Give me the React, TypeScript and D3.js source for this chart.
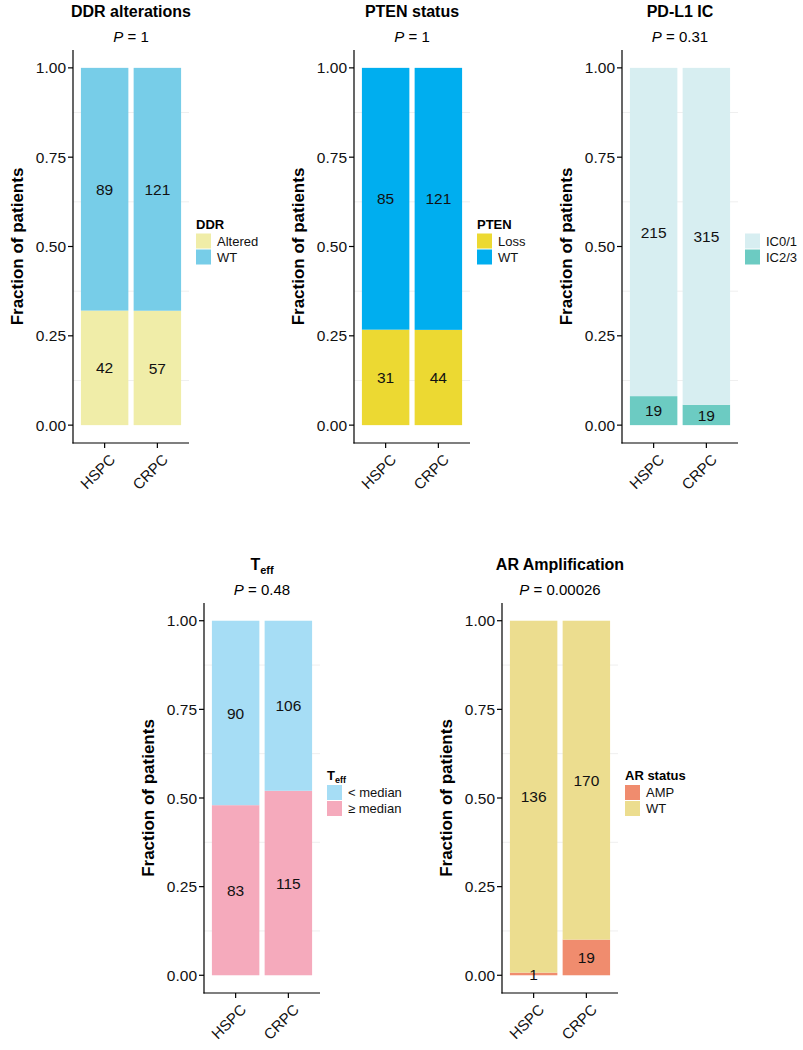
import React from 'react';
import * as d3 from 'd3';

// groups on the x axis
const groups = ['HSPC', 'CRPC'];
const yTicks = [0, 0.25, 0.5, 0.75, 1];
const minorTicks = [0.125, 0.375, 0.625, 0.875];

// counts per group (HSPC, CRPC)
const ddrAltered = [42, 57];
const ddrWT = [89, 121];
const ptenLoss = [31, 44];
const ptenWT = [85, 121];
const icLow = [215, 315];
const icHigh = [19, 19];
const teffBelow = [90, 106];
const teffAbove = [83, 115];
const arAmp = [1, 19];
const arWT = [136, 170];

interface Level {
    name: string;
    values: number[];
    color: string;
}

interface PanelSpec {
    title: string;
    titleSub?: string;
    p: string;
    legendTitle: string;
    legendSub?: string;
    legend: Level[]; // legend order
    stack: Level[]; // bottom first
    axisX: number;
    top: number;
    height: number;
}

const FONT = '"Liberation Sans", Arial, Helvetica, sans-serif';

const ddrLv = {
    altered: { name: 'Altered', values: ddrAltered, color: '#F0EDA8' },
    wt: { name: 'WT', values: ddrWT, color: '#77CDE8' },
};
const ptenLv = {
    loss: { name: 'Loss', values: ptenLoss, color: '#ECD932' },
    wt: { name: 'WT', values: ptenWT, color: '#00AEEF' },
};
const icLv = {
    low: { name: 'IC0/1', values: icLow, color: '#D7EEF1' },
    high: { name: 'IC2/3', values: icHigh, color: '#6CCBC2' },
};
const teffLv = {
    below: { name: '< median', values: teffBelow, color: '#A6DDF5' },
    above: { name: '\u2265 median', values: teffAbove, color: '#F5AABC' },
};
const arLv = {
    amp: { name: 'AMP', values: arAmp, color: '#F08C6E' },
    wt: { name: 'WT', values: arWT, color: '#ECDD8F' },
};

const panels: PanelSpec[] = [
    { title: 'DDR alterations', p: '1', legendTitle: 'DDR', legend: [ddrLv.altered, ddrLv.wt], stack: [ddrLv.altered, ddrLv.wt], axisX: 73, top: 50, height: 393 },
    { title: 'PTEN status', p: '1', legendTitle: 'PTEN', legend: [ptenLv.loss, ptenLv.wt], stack: [ptenLv.loss, ptenLv.wt], axisX: 354, top: 50, height: 393 },
    { title: 'PD-L1 IC', p: '0.31', legendTitle: '', legend: [icLv.low, icLv.high], stack: [icLv.high, icLv.low], axisX: 622, top: 50, height: 393 },
    { title: 'T', titleSub: 'eff', p: '0.48', legendTitle: 'T', legendSub: 'eff', legend: [teffLv.below, teffLv.above], stack: [teffLv.above, teffLv.below], axisX: 204, top: 603, height: 390 },
    { title: 'AR Amplification', p: '0.00026', legendTitle: 'AR status', legend: [arLv.amp, arLv.wt], stack: [arLv.amp, arLv.wt], axisX: 502, top: 603, height: 390 },
];

const PLOT_W = 116;

const Panel: React.FC<{ spec: PanelSpec }> = ({ spec }) => {
    const { axisX, top, height } = spec;
    const right = axisX + PLOT_W;
    const bottom = top + height;
    const x = d3.scaleLinear().domain([0.4, 2.6]).range([axisX, right]);
    const y = d3.scaleLinear().domain([-0.05, 1.05]).range([bottom, top]);
    const cx = (axisX + right) / 2;

    // stacked fractions
    const segs: { g: number; y0: number; y1: number; n: number; color: string }[] = [];
    groups.forEach((_, gi) => {
        const total = d3.sum(spec.stack, l => l.values[gi]);
        let acc = 0;
        spec.stack.forEach(l => {
            const f = l.values[gi] / total;
            segs.push({ g: gi, y0: acc, y1: acc + f, n: l.values[gi], color: l.color });
            acc += f;
        });
    });

    const midY = (top + bottom) / 2;
    const legX = right + 7;

    return (
        <g fontFamily={FONT}>
            {/* title */}
            <text x={cx} y={top - 33} textAnchor="middle" fontWeight="bold" fontSize={16}>
                {spec.title}
                {spec.titleSub && <tspan fontSize={11} dy={4}>{spec.titleSub}</tspan>}
            </text>
            <text x={cx} y={top - 8} textAnchor="middle" fontSize={15}>
                <tspan fontStyle="italic">P</tspan> = {spec.p}
            </text>

            {/* faint minor grid */}
            {minorTicks.map(t => (
                <line key={t} x1={axisX} x2={right} y1={y(t)} y2={y(t)} stroke="#EFEFEF" strokeWidth={1} />
            ))}

            {/* bars */}
            {segs.map((s, i) => (
                <rect key={i}
                    x={x(s.g + 1 - 0.45)}
                    width={x(1.9) - x(1)}
                    y={y(s.y1)}
                    height={y(s.y0) - y(s.y1)}
                    fill={s.color} />
            ))}
            {segs.map((s, i) => (
                <text key={'t' + i} x={x(s.g + 1)} y={y((s.y0 + s.y1) / 2)} dy="0.36em"
                    textAnchor="middle" fontSize={15.5} fill="#111">{s.n}</text>
            ))}

            {/* axes */}
            <line x1={axisX} x2={axisX} y1={top} y2={bottom + 0.6} stroke="#000" strokeWidth={1.2} />
            <line x1={axisX - 0.6} x2={right} y1={bottom} y2={bottom} stroke="#000" strokeWidth={1.2} />
            {yTicks.map(t => (
                <g key={t}>
                    <line x1={axisX - 5} x2={axisX} y1={y(t)} y2={y(t)} stroke="#000" strokeWidth={1.2} />
                    <text x={axisX - 7} y={y(t)} dy="0.36em" textAnchor="end" fontSize={15.5} fill="#111">
                        {d3.format('.2f')(t)}
                    </text>
                </g>
            ))}
            {groups.map((g, gi) => (
                <g key={g}>
                    <line x1={x(gi + 1)} x2={x(gi + 1)} y1={bottom} y2={bottom + 5} stroke="#000" strokeWidth={1.2} />
                    <text transform={`translate(${x(gi + 1) + 4},${bottom + 10}) rotate(-45)`}
                        textAnchor="end" dy="0.72em" fontSize={15} fill="#111">{g}</text>
                </g>
            ))}
            <text transform={`translate(${axisX - 50},${midY}) rotate(-90)`} textAnchor="middle"
                fontWeight="bold" fontSize={17}>Fraction of patients</text>

            {/* legend */}
            {spec.legendTitle && (
                <text x={legX} y={midY - 18} fontWeight="bold" fontSize={13}>
                    {spec.legendTitle}
                    {spec.legendSub && <tspan fontSize={9} dy={3}>{spec.legendSub}</tspan>}
                </text>
            )}
            {spec.legend.map((l, i) => (
                <g key={l.name}>
                    <rect x={legX} y={midY - 13 + i * 16} width={15} height={15} fill={l.color} />
                    <text x={legX + 21} y={midY - 13 + i * 16 + 7.5} dy="0.36em" fontSize={13} fill="#111">{l.name}</text>
                </g>
            ))}
        </g>
    );
};

const App: React.FC = () => (
    <svg width={803} height={1050} style={{ position: 'absolute', left: 0, top: 0 }}>
        <rect width={803} height={1050} fill="#fff" />
        {panels.map((p, i) => <Panel key={i} spec={p} />)}
    </svg>
);

export default App;
